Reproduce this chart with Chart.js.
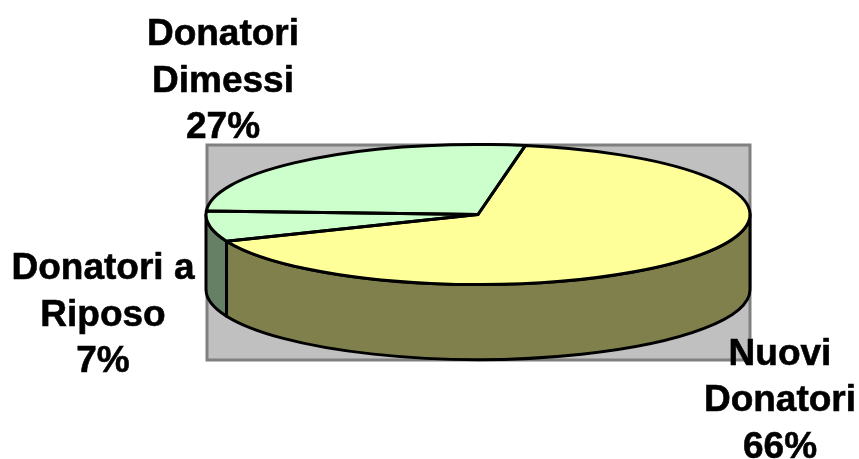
<!DOCTYPE html>
<html>
<head>
<meta charset="utf-8">
<script src="https://cdn.jsdelivr.net/npm/chart.js@4"></script>
<style>
  html, body { margin: 0; padding: 0; background: #fff; overflow: hidden; }
  canvas { display: block; }
</style>
</head>
<body>
<canvas id="pie3d" width="859" height="459"></canvas>
<script>
const categories = ["Nuovi Donatori", "Donatori a Riposo", "Donatori Dimessi"];
const values = [66, 7, 27];
const labelLines = [["Nuovi", "Donatori"], ["Donatori a", "Riposo"], ["Donatori", "Dimessi"]];
const topColors = ["#ffff99", "#ccffcc", "#ccffcc"];
const wallColors = ["#80804d", "#668066", "#668066"];

/* ── Fake 3D: the pie is squashed into an ellipse, wall is extruded below ── */
const PIE = { cx: 478, cy: 214.5, rx: 272, ry: 70, depth: 75 };
const PLOT = { left: 207, top: 145, right: 750, bottom: 360 };
const LABEL_POS = [
  { x: 780, y: 364.5 },
  { x: 103, y: 279 },
  { x: 223, y: 45 },
];

function squash(ctx, arc, dy) {
  const k = arc.outerRadius;
  ctx.translate(PIE.cx, PIE.cy + (dy || 0));
  ctx.scale(PIE.rx / k, PIE.ry / k);
  ctx.translate(-arc.x, -arc.y);
}

const pie3d = {
  id: "pie3d",
  beforeDatasetsDraw(chart) {
    const ctx = chart.ctx;
    const arcs = chart.getDatasetMeta(0).data;

    // grey plot area
    ctx.save();
    ctx.fillStyle = "#c0c0c0";
    ctx.strokeStyle = "#808080";
    ctx.lineWidth = 3;
    ctx.fillRect(PLOT.left, PLOT.top, PLOT.right - PLOT.left, PLOT.bottom - PLOT.top);
    ctx.strokeRect(PLOT.left, PLOT.top, PLOT.right - PLOT.left, PLOT.bottom - PLOT.top);
    ctx.restore();

    // side wall, only the front half of each slice shows
    arcs.forEach((arc, i) => {
      const s = Math.max(arc.startAngle, 0);
      const e = Math.min(arc.endAngle, Math.PI);
      if (e <= s) return;
      ctx.save();
      ctx.beginPath();
      ctx.save();
      squash(ctx, arc, 0);
      ctx.arc(arc.x, arc.y, arc.outerRadius, s, e);
      ctx.restore();
      ctx.save();
      squash(ctx, arc, PIE.depth);
      ctx.arc(arc.x, arc.y, arc.outerRadius, e, s, true);
      ctx.restore();
      ctx.closePath();
      ctx.fillStyle = wallColors[i];
      ctx.fill();
      ctx.strokeStyle = "#000";
      ctx.lineWidth = 3;
      ctx.lineJoin = "round";
      ctx.stroke();
      ctx.restore();
    });

    // top face is drawn by the library inside this transform
    ctx.save();
    squash(ctx, arcs[0], 0);
  },
  afterDatasetsDraw(chart) {
    const ctx = chart.ctx;
    ctx.restore();

    // outlines after the restore so the pen is not squashed too
    chart.getDatasetMeta(0).data.forEach((arc) => {
      ctx.save();
      ctx.beginPath();
      ctx.save();
      squash(ctx, arc, 0);
      ctx.moveTo(arc.x, arc.y);
      ctx.arc(arc.x, arc.y, arc.outerRadius, arc.startAngle, arc.endAngle);
      ctx.closePath();
      ctx.restore();
      ctx.strokeStyle = "#000";
      ctx.lineWidth = 3;
      ctx.lineJoin = "round";
      ctx.stroke();
      ctx.restore();
    });

    // slice labels, thin stroke to thicken the bold a little
    ctx.save();
    ctx.font = "bold 37px 'Liberation Sans', Arial, sans-serif";
    ctx.fillStyle = "#000";
    ctx.strokeStyle = "#000";
    ctx.lineWidth = 0.6;
    ctx.textAlign = "center";
    ctx.textBaseline = "alphabetic";
    categories.forEach((_, i) => {
      const lines = labelLines[i].concat(values[i] + "%");
      lines.forEach((line, j) => {
        const y = LABEL_POS[i].y + j * 46.5;
        ctx.fillText(line, LABEL_POS[i].x, y);
        ctx.strokeText(line, LABEL_POS[i].x, y);
      });
    });
    ctx.restore();
  },
};

new Chart(document.getElementById("pie3d").getContext("2d"), {
  type: "pie",
  data: {
    labels: categories,
    datasets: [
      {
        data: values,
        backgroundColor: topColors,
        borderWidth: 0,
      },
    ],
  },
  options: {
    responsive: false,
    animation: false,
    rotation: 10,
    plugins: {
      legend: { display: false },
      tooltip: { enabled: false },
    },
  },
  plugins: [pie3d],
});
</script>
</body>
</html>
